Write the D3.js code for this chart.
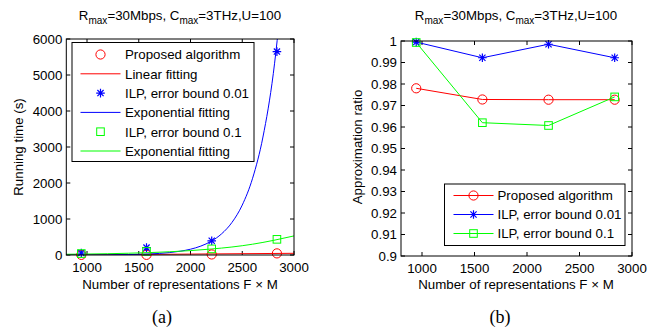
<!DOCTYPE html>
<html><head><meta charset="utf-8">
<script src="https://cdn.jsdelivr.net/npm/d3@7/dist/d3.min.js"></script>
<style>body{margin:0;background:#fff}svg{display:block}text{font-family:"Liberation Sans",Arial,sans-serif;fill:#000}</style>
</head><body><svg id="c" width="661" height="327"></svg>
<script>
// ---- data ----
const xs = [945, 1575, 2205, 2835];
// (a) running time (s)
const timeProposed = [3, 4, 15, 45];
const timeIlp001 = [55, 205, 395, 5650];
const timeIlp01 = [40, 100, 170, 435];
const linFitX = [800, 3000];
const linFitY = [0, 47];
const expFitX = [800, 1000, 1200, 1400, 1600, 1700, 1800, 1900, 2000, 2100, 2200, 2300, 2400, 2500, 2600, 2700, 2800, 2900];
const expFit001 = [1, 2, 5, 12, 29, 44, 68, 105, 161, 248, 382, 587, 902, 1387, 2132, 3277, 5037, 7745];
const expFit01X = [800, 1000, 1200, 1400, 1600, 1800, 2000, 2200, 2400, 2600, 2800, 3000];
const expFit01 = [20, 27, 36, 49, 66, 90, 122, 166, 222, 300, 405, 530];
// (b) approximation ratio
const ratioProposed = [0.978, 0.9728, 0.9727, 0.9727];
const ratioIlp001 = [0.9995, 0.9922, 0.9985, 0.9922];
const ratioIlp01 = [0.9993, 0.962, 0.9607, 0.974];
const xTicks = [1000, 1500, 2000, 2500, 3000];
const yTicksA = [0, 1000, 2000, 3000, 4000, 5000, 6000];
const yTicksB = [0.9, 0.91, 0.92, 0.93, 0.94, 0.95, 0.96, 0.97, 0.98, 0.99, 1];
const legendA = ["Proposed algorithm", "Linear fitting", "ILP, error bound 0.01", "Exponential fitting", "ILP, error bound 0.1", "Exponential fitting"];
const legendB = ["Proposed algorithm", "ILP, error bound 0.01", "ILP, error bound 0.1"];

const RED = "#ff0000", BLUE = "#0000ff", GREEN = "#00ff00";
const FS = 13.3;
const svg = d3.select("#c");

function marker(g, type, x, y, color) {
  if (type === "o") g.append("circle").attr("cx", x).attr("cy", y).attr("r", 4.6).attr("fill", "none").attr("stroke", color).attr("stroke-width", 1);
  else if (type === "s") g.append("rect").attr("x", x - 3.8).attr("y", y - 3.8).attr("width", 7.6).attr("height", 7.6).attr("fill", "none").attr("stroke", color).attr("stroke-width", 1);
  else if (type === "*") {
    const r = 4.3, d = r * 0.72;
    g.append("path").attr("d", `M${x - r},${y}H${x + r}M${x},${y - r}V${y + r}M${x - d},${y - d}L${x + d},${y + d}M${x - d},${y + d}L${x + d},${y - d}`)
      .attr("stroke", color).attr("stroke-width", 1.2).attr("fill", "none");
  }
}

function frame(x, y, yTicks, fmt, id) {
  const [x0, x1] = x.range(), [y0, y1] = y.range();
  const g = svg.append("g");
  const tl = 4;
  xTicks.forEach(t => {
    const px = x(t);
    g.append("line").attr("x1", px).attr("x2", px).attr("y1", y0).attr("y2", y0 - tl).attr("stroke", "#000");
    g.append("line").attr("x1", px).attr("x2", px).attr("y1", y1).attr("y2", y1 + tl).attr("stroke", "#000");
    g.append("text").attr("x", px).attr("y", y0 + 16.5).attr("text-anchor", "middle").attr("font-size", FS).text(t);
  });
  yTicks.forEach(t => {
    const py = y(t);
    g.append("line").attr("x1", x0).attr("x2", x0 + tl).attr("y1", py).attr("y2", py).attr("stroke", "#000");
    g.append("line").attr("x1", x1).attr("x2", x1 - tl).attr("y1", py).attr("y2", py).attr("stroke", "#000");
    g.append("text").attr("x", x0 - 4).attr("y", py + 4.8).attr("text-anchor", "end").attr("font-size", FS).text(fmt(t));
  });
  svg.append("clipPath").attr("id", id).append("rect").attr("x", x0).attr("y", y1).attr("width", x1 - x0).attr("height", y0 - y1);
  return g;
}

function box(x, y) {
  const [x0, x1] = x.range(), [y0, y1] = y.range();
  svg.append("rect").attr("x", x0).attr("y", y1).attr("width", x1 - x0).attr("height", y0 - y1).attr("fill", "none").attr("stroke", "#000").attr("stroke-width", 1);
}

function title(cx) {
  const t = svg.append("text").attr("x", cx).attr("y", 20).attr("text-anchor", "middle").attr("font-size", FS);
  t.append("tspan").text("R");
  t.append("tspan").attr("font-size", 10).attr("dy", 4).text("max");
  t.append("tspan").attr("dy", -4).text("=30Mbps, C");
  t.append("tspan").attr("font-size", 10).attr("dy", 4).text("max");
  t.append("tspan").attr("dy", -4).text("=3THz,U=100");
}

function xlabel(cx, y) {
  svg.append("text").attr("x", cx).attr("y", y).attr("text-anchor", "middle").attr("font-size", FS).text("Number of representations F \u00d7 M");
}
function ylabel(x, cy, s) {
  svg.append("text").attr("transform", `translate(${x},${cy}) rotate(-90)`).attr("text-anchor", "middle").attr("font-size", FS).text(s);
}

// ---- chart (a) ----
const xa = d3.scaleLinear().domain([800, 3000]).range([66.3, 294]);
const ya = d3.scaleLinear().domain([0, 6000]).range([255, 39]);
frame(xa, ya, yTicksA, d => d, "clipA");
const pa = svg.append("g").attr("clip-path", "url(#clipA)");
const lineA = d3.line().x(d => xa(d[0])).y(d => ya(d[1]));
pa.append("path").attr("d", lineA(d3.zip(linFitX, linFitY))).attr("stroke", RED).attr("fill", "none").attr("stroke-width", 1);
pa.append("path").attr("d", lineA.curve(d3.curveMonotoneX)(d3.zip(expFitX, expFit001))).attr("stroke", BLUE).attr("fill", "none").attr("stroke-width", 1);
pa.append("path").attr("d", lineA.curve(d3.curveMonotoneX)(d3.zip(expFit01X, expFit01))).attr("stroke", GREEN).attr("fill", "none").attr("stroke-width", 1);
const ma = svg.append("g");
xs.forEach((x, i) => {
  marker(ma, "o", xa(x), ya(timeProposed[i]), RED);
  marker(ma, "*", xa(x), ya(timeIlp001[i]), BLUE);
  marker(ma, "s", xa(x), ya(timeIlp01[i]), GREEN);
});
box(xa, ya);
// legend (a)
const la = svg.append("g");
la.append("rect").attr("x", 72).attr("y", 42.5).attr("width", 182).attr("height", 119).attr("fill", "#fff").attr("stroke", "#000");
const legTypesA = [["o", RED], ["-", RED], ["*", BLUE], ["-", BLUE], ["s", GREEN], ["-", GREEN]];
legendA.forEach((s, i) => {
  const cy = 54.5 + i * 19.3;
  const [t, c] = legTypesA[i];
  if (t === "-") la.append("line").attr("x1", 80.5).attr("x2", 120.5).attr("y1", cy).attr("y2", cy).attr("stroke", c);
  else marker(la, t, 100.5, cy, c);
  la.append("text").attr("x", 125).attr("y", cy + 4.8).attr("font-size", FS).text(s);
});
title(180);
xlabel(180, 288.5);
ylabel(23, 147, "Running time (s)");
svg.append("text").attr("x", 162).attr("y", 323).attr("text-anchor", "middle").attr("font-size", 18).style("font-family", "'Liberation Serif','Times New Roman',serif").text("(a)");

// ---- chart (b) ----
const xb = d3.scaleLinear().domain([800, 3000]).range([401, 632]);
const yb = d3.scaleLinear().domain([0.9, 1]).range([256, 41]);
frame(xb, yb, yTicksB, d => d3.format("~g")(d), "clipB");
const lineB = d3.line().x(d => xb(d[0])).y(d => yb(d[1]));
const series = [[ratioProposed, RED, "o"], [ratioIlp001, BLUE, "*"], [ratioIlp01, GREEN, "s"]];
const mb = svg.append("g");
series.forEach(([vals, c, t]) => {
  mb.append("path").attr("d", lineB(d3.zip(xs, vals))).attr("stroke", c).attr("fill", "none").attr("stroke-width", 1);
});
series.forEach(([vals, c, t]) => {
  xs.forEach((x, i) => marker(mb, t, xb(x), yb(vals[i]), c));
});
box(xb, yb);
const lb = svg.append("g");
lb.append("rect").attr("x", 444.5).attr("y", 184).attr("width", 180.5).attr("height", 61.5).attr("fill", "#fff").attr("stroke", "#000");
legendB.forEach((s, i) => {
  const cy = 195.5 + i * 19;
  const [, c, t] = series[i];
  lb.append("line").attr("x1", 453.5).attr("x2", 493.5).attr("y1", cy).attr("y2", cy).attr("stroke", c);
  marker(lb, t, 473.5, cy, c);
  lb.append("text").attr("x", 497.5).attr("y", cy + 4.8).attr("font-size", FS).text(s);
});
title(516);
xlabel(516, 288.5);
ylabel(362, 147, "Approximation ratio");
svg.append("text").attr("x", 500).attr("y", 323).attr("text-anchor", "middle").attr("font-size", 18).style("font-family", "'Liberation Serif','Times New Roman',serif").text("(b)");
</script></body></html>
